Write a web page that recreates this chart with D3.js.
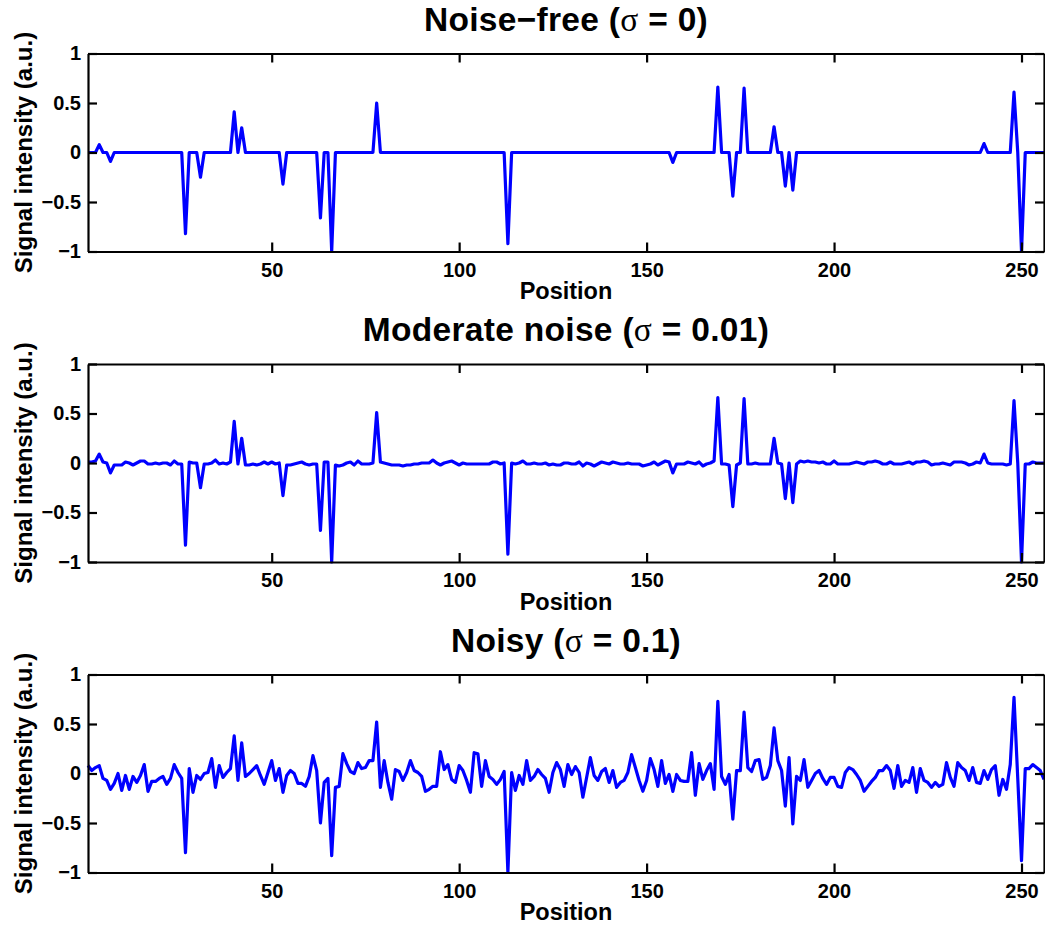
<!DOCTYPE html>
<html>
<head>
<meta charset="utf-8">
<script src="https://cdn.jsdelivr.net/npm/d3@7"></script>
<style>
  html, body { margin: 0; padding: 0; background: #fff; }
  svg { display: block; }
  text { font-family: "Liberation Sans", Arial, Helvetica, sans-serif; font-weight: bold; fill: #000; }
</style>
</head>
<body>
<svg id="chart" width="1045" height="927"></svg>
<script>
// ---------------- data ----------------
const positions = d3.range(1, 257); // 1 .. 256

const noiseFree = [
  0,0,0,0.08,0,0,-0.09,0,0,0,0,0,0,0,0,0,
  0,0,0,0,0,0,0,0,0,0,-0.82,0,0,0,-0.25,0,
  0,0,0,0,0,0,0,0.41,0,0.25,0,0,0,0,0,0,
  0,0,0,0,-0.32,0,0,0,0,0,0,0,0,0,-0.66,0,
  0,-1.0,0,0,0,0,0,0,0,0,0,0,0,0.50,0,0,
  0,0,0,0,0,0,0,0,0,0,0,0,0,0,0,0,
  0,0,0,0,0,0,0,0,0,0,0,0,0,0,0,0,
  -0.92,0,0,0,0,0,0,0,0,0,0,0,0,0,0,0,
  0,0,0,0,0,0,0,0,0,0,0,0,0,0,0,0,
  0,0,0,0,0,0,0,0,0,0,0,0,-0.10,0,0,0,
  0,0,0,0,0,0,0,0,0.66,0,0,0,-0.44,0,0,0.65,
  0,0,0,0,0,0,0,0.26,0,0,-0.34,0,-0.38,0,0,0,
  0,0,0,0,0,0,0,0,0,0,0,0,0,0,0,0,
  0,0,0,0,0,0,0,0,0,0,0,0,0,0,0,0,
  0,0,0,0,0,0,0,0,0,0,0,0,0,0,0,0.09,
  0,0,0,0,0,0,0,0.61,0,-1.0,0,0,0,0,0,0
];

const moderateNoise = [
  0.01,0.01,0.02,0.09,0.01,0.00,-0.10,-0.02,-0.02,-0.02,0.01,0.00,-0.02,0.00,0.02,0.02,
  -0.01,-0.01,0.00,-0.01,0.00,0.00,-0.02,0.02,-0.01,-0.01,-0.83,0.01,0.00,0.00,-0.25,-0.01,
  -0.01,0.00,0.03,-0.01,0.00,-0.01,0.01,0.42,-0.01,0.25,-0.02,-0.02,-0.01,-0.02,-0.01,0.01,
  -0.01,0.01,-0.01,0.00,-0.33,-0.02,-0.02,-0.01,0.00,0.01,-0.01,-0.02,-0.01,-0.01,-0.68,0.01,
  0.01,-1.0,-0.02,-0.03,-0.02,0.00,0.01,-0.02,0.02,-0.01,-0.01,-0.01,0.00,0.51,0.01,0.00,
  -0.01,-0.02,-0.02,-0.02,-0.03,-0.02,-0.02,-0.01,-0.01,0.00,0.00,0.00,0.03,0.00,-0.02,0.00,
  0.01,0.02,0.00,-0.02,0.00,-0.01,-0.01,-0.01,-0.01,-0.01,-0.01,-0.01,0.01,0.01,-0.01,0.00,
  -0.92,0.00,-0.01,0.00,0.02,-0.01,-0.01,0.00,-0.01,-0.01,0.00,-0.02,-0.01,-0.02,-0.02,0.00,
  0.00,-0.01,-0.01,0.01,-0.03,0.00,-0.01,-0.03,-0.01,0.01,0.00,-0.01,0.01,0.00,-0.01,-0.01,
  0.00,-0.01,-0.01,-0.01,-0.03,-0.02,-0.01,0.01,-0.02,0.00,0.02,0.01,-0.10,-0.01,-0.01,-0.01,
  0.01,0.00,-0.01,0.01,-0.03,-0.01,0.00,0.02,0.66,-0.01,-0.01,-0.02,-0.44,-0.02,0.00,0.65,
  -0.01,-0.01,0.00,-0.01,-0.01,-0.01,-0.01,0.25,0.00,-0.01,-0.36,0.00,-0.40,-0.01,0.02,0.01,
  0.02,0.01,0.01,0.00,0.01,-0.01,-0.01,0.02,-0.01,-0.01,-0.01,-0.01,0.00,0.01,0.00,-0.01,
  0.01,0.01,0.02,0.01,-0.01,-0.01,0.01,-0.01,-0.01,-0.01,0.00,0.01,-0.01,0.01,0.01,0.02,
  0.01,-0.02,-0.01,-0.01,0.00,-0.01,-0.02,0.01,0.01,0.01,0.00,-0.02,-0.01,0.01,0.00,0.09,
  0.00,-0.01,-0.01,-0.01,-0.01,-0.02,-0.01,0.63,0.00,-1.0,-0.01,-0.01,0.01,0.00,0.00,0.00
];

const noisy = [
  0.08,0.03,0.06,0.08,-0.05,-0.07,-0.16,-0.10,0.00,-0.17,-0.02,-0.16,-0.03,-0.09,-0.02,0.09,
  -0.18,-0.08,-0.08,-0.05,-0.03,-0.11,-0.05,0.09,0.01,-0.05,-0.80,0.05,-0.19,-0.02,-0.06,0.00,
  0.01,0.15,-0.14,0.08,-0.04,0.01,0.05,0.38,-0.07,0.31,-0.03,0.00,0.04,0.08,-0.02,-0.11,
  0.01,0.13,-0.07,0.05,-0.19,-0.02,0.03,0.00,-0.10,-0.10,-0.13,-0.03,0.18,0.03,-0.50,-0.09,
  -0.05,-0.83,-0.14,-0.13,0.20,0.10,0.02,0.00,0.11,0.05,0.06,0.13,0.13,0.52,-0.14,0.13,
  -0.09,-0.26,0.04,0.02,-0.07,0.01,0.13,0.03,0.01,-0.03,-0.18,-0.16,-0.13,-0.13,0.22,0.04,
  0.09,-0.06,-0.09,0.08,0.03,-0.07,-0.19,0.21,0.20,-0.13,0.13,-0.03,-0.06,-0.11,-0.06,0.02,
  -1.0,0.01,-0.17,-0.02,-0.11,0.13,-0.07,-0.03,0.04,-0.01,-0.05,-0.19,0.01,0.11,0.04,-0.13,
  0.09,-0.01,0.07,0.01,-0.24,-0.04,0.16,-0.02,-0.07,0.02,0.05,-0.09,0.03,-0.14,-0.09,-0.07,
  0.01,0.19,0.06,-0.07,-0.18,-0.07,0.15,0.04,-0.13,0.13,-0.10,-0.01,-0.18,-0.01,-0.07,-0.08,
  -0.08,0.21,-0.22,0.10,-0.06,0.03,0.10,-0.16,0.73,-0.03,-0.11,-0.01,-0.46,0.03,0.03,0.62,
  0.06,0.02,0.13,0.14,-0.06,-0.04,0.08,0.46,0.13,0.03,-0.33,0.16,-0.51,-0.03,-0.07,0.14,
  -0.14,-0.07,0.00,0.03,-0.05,-0.11,-0.04,-0.04,-0.13,-0.14,0.01,0.06,0.04,-0.01,-0.07,-0.18,
  -0.13,-0.08,-0.04,0.03,0.03,0.08,0.03,-0.15,0.08,-0.13,-0.07,-0.09,0.06,-0.19,0.05,-0.07,
  -0.09,-0.14,-0.09,-0.13,-0.11,0.11,-0.04,-0.13,0.11,0.06,0.03,-0.07,0.06,-0.09,-0.10,0.03,
  -0.06,0.04,0.08,-0.22,-0.06,-0.16,0.09,0.77,-0.05,-0.88,0.05,0.05,0.09,0.06,0.03,-0.06
];

const panelTitles = [
  ["Noise\u2212free (", "\u03C3", " = 0)"],
  ["Moderate noise (", "\u03C3", " = 0.01)"],
  ["Noisy (", "\u03C3", " = 0.1)"]
];
const seriesList = [noiseFree, moderateNoise, noisy];
const xTicks = [50, 100, 150, 200, 250];
const yTicks = [-1, -0.5, 0, 0.5, 1];
const xLabel = "Position";
const yLabel = "Signal intensity (a.u.)";

// ---------------- layout ----------------
const svg = d3.select("#chart");
const left = 88, right = 1044;
const panelTop = [53.5, 364, 674.5];
const panelH = 198;
const tickLen = 9;

const x = d3.scaleLinear().domain([1, 256]).range([0, right - left]);
const y = d3.scaleLinear().domain([-1, 1]).range([panelH, 0]);
const fmtY = d => d === 0 ? "0" : (d < 0 ? "\u2212" : "") + Math.abs(d);

seriesList.forEach((vals, p) => {
  const g = svg.append("g").attr("transform", `translate(${left},${panelTop[p]})`);

  // line
  const line = d3.line().x((d, i) => x(positions[i])).y(d => y(d));
  g.append("path")
    .datum(vals)
    .attr("fill", "none")
    .attr("stroke", "#0000ff")
    .attr("stroke-width", 3.2)
    .attr("stroke-linejoin", "round")
    .attr("d", line);

  // axes (box with inward ticks)
  const styleAxis = sel => {
    sel.selectAll(".domain").attr("stroke", "#000").attr("stroke-width", 2.2);
    sel.selectAll(".tick line").attr("stroke", "#000").attr("stroke-width", 2.2);
    sel.selectAll("text").attr("font-size", 20).attr("font-weight", "bold")
      .attr("font-family", "'Liberation Sans', Arial, Helvetica, sans-serif").attr("fill", "#000");
  };
  g.append("g").attr("transform", `translate(0,${panelH})`)
    .call(d3.axisBottom(x).tickValues(xTicks).tickSizeInner(-tickLen).tickSizeOuter(0).tickPadding(11).tickFormat(d3.format("d")))
    .call(styleAxis);
  g.append("g")
    .call(d3.axisTop(x).tickValues(xTicks).tickSizeInner(-tickLen).tickSizeOuter(0).tickFormat(""))
    .call(styleAxis);
  g.append("g")
    .call(d3.axisLeft(y).tickValues(yTicks).tickSizeInner(-tickLen).tickSizeOuter(0).tickPadding(7).tickFormat(fmtY))
    .call(styleAxis);
  g.append("g").attr("transform", `translate(${right - left},0)`)
    .call(d3.axisRight(y).tickValues(yTicks).tickSizeInner(-tickLen).tickSizeOuter(0).tickFormat(""))
    .call(styleAxis);

  // title
  const t = svg.append("text")
    .attr("x", (left + right) / 2)
    .attr("y", panelTop[p] - 23)
    .attr("text-anchor", "middle")
    .attr("font-size", 33.5)
    .attr("letter-spacing", 0.3);
  t.append("tspan").text(panelTitles[p][0]);
  t.append("tspan").attr("font-weight", "normal").attr("font-family", "'Liberation Serif', 'Times New Roman', serif").text(panelTitles[p][1]);
  t.append("tspan").text(panelTitles[p][2]);

  // x label
  svg.append("text")
    .attr("x", (left + right) / 2)
    .attr("y", panelTop[p] + panelH + 47.5)
    .attr("text-anchor", "middle")
    .attr("font-size", 23.5)
    .text(xLabel);

  // y label
  svg.append("text")
    .attr("transform", `translate(32,${panelTop[p] + panelH / 2}) rotate(-90)`)
    .attr("text-anchor", "middle")
    .attr("font-size", 24)
    .text(yLabel);
});
</script>
</body>
</html>
